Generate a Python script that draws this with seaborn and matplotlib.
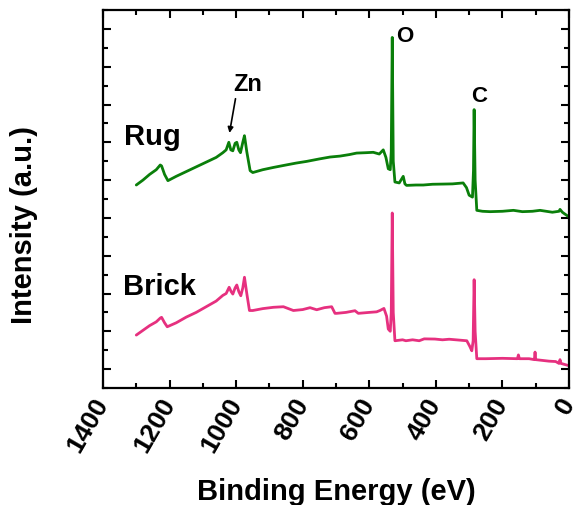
import numpy as np
import pandas as pd
import matplotlib
matplotlib.use("Agg")
import matplotlib.pyplot as plt
from matplotlib.ticker import MultipleLocator
import seaborn as sns

# ---- data ----
rug_energy = [1300, 1280, 1260, 1240, 1228, 1224, 1215, 1205, 1180, 1150, 1120, 1090,
              1060, 1040, 1030, 1022, 1016, 1010, 1003, 998, 992, 987, 980, 975, 968,
              958, 950, 920, 888, 850, 820, 788, 750, 718, 688, 660, 638, 610, 588,
              570, 558, 550, 543, 537, 534, 531, 528, 523, 510, 498, 493, 488, 460,
              438, 410, 378, 350, 318, 308, 300, 290, 287, 285, 282, 277, 260, 237,
              200, 167, 140, 110, 87, 50, 30, 27, 20, 0]
rug_intensity = [9.74, 10.0, 10.3, 10.55, 10.8, 10.75, 10.3, 9.97, 10.2, 10.45, 10.7, 10.95,
                 11.2, 11.45, 11.6, 12.0, 11.6, 11.55, 11.95, 12.0, 11.6, 11.45, 12.0, 12.35, 11.5,
                 10.5, 10.4, 10.55, 10.67, 10.8, 10.9, 10.99, 11.12, 11.22, 11.27, 11.35, 11.43, 11.45, 11.47,
                 11.38, 11.6, 11.2, 10.6, 10.55, 11.5, 17.55, 11.0, 9.9, 9.85, 10.2, 9.8, 9.72, 9.74,
                 9.74, 9.78, 9.79, 9.8, 9.85, 9.6, 9.2, 9.1, 10.5, 13.73, 10.0, 8.4, 8.35, 8.33,
                 8.35, 8.4, 8.33, 8.35, 8.4, 8.3, 8.35, 8.45, 8.3, 8.05]

brick_energy = [1300, 1280, 1260, 1240, 1228, 1224, 1215, 1207, 1180, 1150, 1120, 1090,
                1060, 1040, 1030, 1021, 1015, 1010, 1003, 998, 992, 986, 980, 975, 968,
                960, 950, 920, 888, 858, 828, 800, 778, 758, 735, 713, 703, 698, 670,
                643, 633, 600, 578, 568, 556, 548, 543, 537, 534, 531, 528, 523, 500,
                490, 470, 450, 435, 403, 380, 360, 340, 307, 298, 292, 288, 285, 282,
                277, 250, 200, 155, 152, 149, 120, 104, 102, 100, 60, 40, 30, 27, 24, 0]
brick_intensity = [1.80, 2.05, 2.3, 2.5, 2.7, 2.74, 2.45, 2.24, 2.45, 2.75, 3.0, 3.3,
                   3.6, 3.9, 4.0, 4.33, 4.1, 3.97, 4.3, 4.45, 4.1, 3.88, 4.3, 4.86, 4.0,
                   3.1, 3.1, 3.2, 3.27, 3.3, 3.1, 3.15, 3.25, 3.14, 3.25, 3.3, 2.95, 2.95, 3.0,
                   3.09, 2.95, 3.0, 3.03, 3.1, 3.21, 2.8, 2.12, 2.0, 3.0, 8.26, 3.0, 1.5, 1.55,
                   1.5, 1.55, 1.5, 1.6, 1.59, 1.55, 1.58, 1.55, 1.5, 1.2, 0.97, 1.5, 4.73, 2.0,
                   0.55, 0.55, 0.57, 0.55, 0.75, 0.55, 0.55, 0.5, 0.9, 0.5, 0.42, 0.4, 0.3, 0.5, 0.3, 0.18]

x_ticks = [1400, 1200, 1000, 800, 600, 400, 200, 0]
x_tick_labels = ["1400", "1200", "1000", "800", "600", "400", "200", "0"]

sns.set_style("ticks")
plt.rcParams['font.family'] = ['Liberation Sans', 'DejaVu Sans']
plt.rcParams['font.weight'] = 'bold'
plt.rcParams['text.color'] = 'black'
plt.rcParams['axes.labelcolor'] = 'black'
plt.rcParams['xtick.color'] = 'black'
plt.rcParams['ytick.color'] = 'black'

fig = plt.figure(figsize=(5.73, 5.06), dpi=100)
ax = fig.add_axes([103/573, 1-389/506, 466/573, 378/506])

rug = pd.DataFrame({"energy": rug_energy, "intensity": rug_intensity})
brick = pd.DataFrame({"energy": brick_energy, "intensity": brick_intensity})

sns.lineplot(data=rug, x="energy", y="intensity", ax=ax, color="#0a7f0a", lw=2.0,
             estimator=None, sort=False)
sns.lineplot(data=brick, x="energy", y="intensity", ax=ax, color="#e6307f", lw=2.0,
             estimator=None, sort=False)

ax.set_xlim(1400, 0)
ax.set_ylim(-1, 19)
ax.set_xticks(x_ticks)
ax.set_xticklabels(x_tick_labels, rotation=60, ha="right", va="center",
                   rotation_mode="anchor", fontsize=19, fontweight="bold", color="black")
ax.xaxis.set_minor_locator(MultipleLocator(100))
ax.yaxis.set_major_locator(MultipleLocator(2))
ax.yaxis.set_minor_locator(MultipleLocator(1))
ax.set_yticklabels([])
ax.tick_params(which="both", direction="in", top=True, right=True, width=1.5, color="black")
ax.tick_params(which="major", length=6)
ax.tick_params(which="minor", length=3.5)
ax.tick_params(axis="x", which="major", pad=8)
for s in ax.spines.values():
    s.set_linewidth(1.6)
    s.set_color("black")

ax.set_xlabel("Binding Energy (eV)", fontsize=21, fontweight="bold", color="black")
ax.set_ylabel("Intensity (a.u.)", fontsize=21, fontweight="bold", color="black")
ax.xaxis.set_label_coords(0.5, -0.235)
ax.yaxis.set_label_coords(-0.14, 0.434)

ax.text(1337, 11.91, "Rug", fontsize=21, fontweight="bold", color="black")
ax.text(1340, 3.97, "Brick", fontsize=21, fontweight="bold", color="black")
ax.text(964, 14.77, "Zn", fontsize=17, fontweight="bold", ha="center", color="black")
ax.text(520, 17.36, "O", fontsize=16, fontweight="bold", color="black")
ax.text(294, 14.19, "C", fontsize=16, fontweight="bold", color="black")
ax.annotate("", xy=(1021.5, 12.35), xytext=(1000.5, 14.45),
            arrowprops=dict(arrowstyle="-|>", color="black", lw=1.2, mutation_scale=8))

fig.savefig("out.png", dpi=100)
